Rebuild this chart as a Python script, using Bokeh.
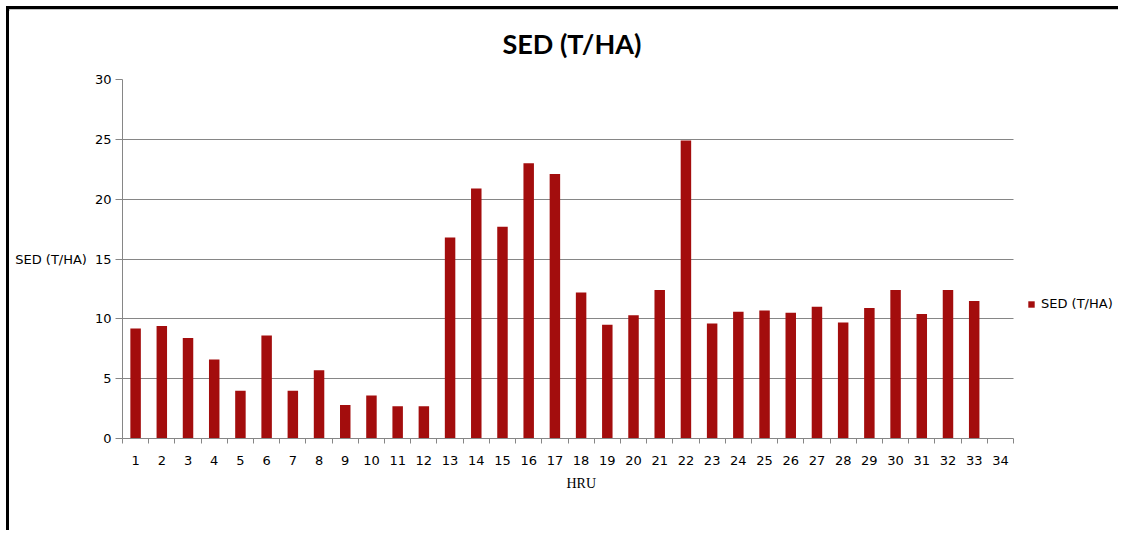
from bokeh.plotting import figure
from bokeh.models import FixedTicker, Legend, LegendItem, ColumnDataSource, Range1d, Title
from bokeh.embed import file_html
from bokeh.resources import INLINE

# ---- data ----
hru = list(range(1, 35))
sed = [9.2, 9.4, 8.4, 6.6, 4.0, 8.6, 4.0, 5.7, 2.8, 3.6, 2.7, 2.7,
       16.8, 20.9, 17.7, 23.0, 22.1, 12.2, 9.5, 10.3, 12.4, 24.9,
       9.6, 10.6, 10.7, 10.5, 11.0, 9.7, 10.9, 12.4, 10.4, 12.4, 11.5]
y_ticks = [0, 5, 10, 15, 20, 25, 30]
series_name = "SED (T/HA)"
x_title = "HRU"
y_title = "SED (T/HA)"
chart_title = "SED (T/HA)"

BAR = "#A30D0D"
GRID = "#868686"
FONT = "DejaVu Sans"

# layout (pixels)
W, H = 1112, 524
LEFT, TOP, BOTTOM = 113, 68, 95
AXIS_PX = 891                      # length of the category axis
x0, x1 = hru[0] - 0.5, hru[-1] + 0.5
px_per = AXIS_PX / (x1 - x0)
x_end = x0 + (W - LEFT) / px_per   # frame extends to the right edge (legend lives there)

src = ColumnDataSource(dict(x=hru[:len(sed)], top=sed))

p = figure(width=W, height=H, output_backend="svg", toolbar_location=None,
           x_range=Range1d(x0, x_end),
           y_range=Range1d(y_ticks[0], y_ticks[-1]),
           min_border_left=LEFT, min_border_right=0,
           min_border_top=TOP, min_border_bottom=BOTTOM)
p.outline_line_color = None
p.background_fill_color = "white"
p.border_fill_color = "white"

r = p.vbar(x="x", top="top", bottom=0, width=0.4, source=src,
           fill_color=BAR, line_color=None)

# title
p.title.text = chart_title
p.title.align = "left"
p.title.offset = 380
p.title.vertical_align = "top"
p.title.text_font = "Lato"
p.title.text_font_size = "27px"
p.title.text_font_style = "bold"
p.title.text_color = "black"
p.title.standoff = 35

# x axis: labels at centres, tick marks between categories
xa = p.xaxis[0]
xa.bounds = (x0, x1)
xa.ticker = FixedTicker(ticks=hru, minor_ticks=[h - 0.5 for h in hru] + [hru[-1] + 0.5])
xa.major_tick_out = 0
xa.major_tick_in = 0
xa.minor_tick_out = 5
xa.minor_tick_in = 0
xa.minor_tick_line_color = GRID
xa.axis_line_color = GRID
xa.major_label_text_font = FONT
xa.major_label_text_font_size = "13px"
xa.major_label_text_color = "black"
xa.major_label_standoff = 12

# x axis title, centred where the reference has it
p.add_layout(Title(text=x_title, align="left", offset=444, standoff=13,
                   text_font="Liberation Serif", text_font_size="14px",
                   text_font_style="normal", text_color="black"), "below")

ya = p.yaxis[0]
ya.ticker = FixedTicker(ticks=y_ticks, minor_ticks=[])
ya.major_tick_out = 7
ya.major_tick_in = 0
ya.major_tick_line_color = GRID
ya.axis_line_color = GRID
ya.major_label_text_font = FONT
ya.major_label_text_font_size = "13px"
ya.major_label_text_color = "black"
ya.major_label_standoff = 4
ya.axis_label = y_title
ya.axis_label_orientation = "horizontal"
ya.axis_label_text_font = FONT
ya.axis_label_text_font_size = "13px"
ya.axis_label_text_font_style = "normal"
ya.axis_label_text_color = "black"
ya.axis_label_standoff = 5

p.xgrid.visible = False
p.ygrid.ticker = FixedTicker(ticks=y_ticks)
p.ygrid.cross_bounds = (x0, x1)
p.ygrid.grid_line_color = GRID
p.ygrid.grid_line_width = 1

legend = Legend(items=[LegendItem(label=series_name, renderers=[r])],
                location=(AXIS_PX + 14, 127), padding=0, margin=0, spacing=0,
                glyph_width=8, glyph_height=8, label_height=13,
                label_standoff=6, border_line_color=None,
                background_fill_alpha=0,
                label_text_font=FONT, label_text_font_size="13px",
                label_text_color="black")
p.add_layout(legend, "center")

p.styles = {"margin-left": "6px", "margin-top": "6px",
            "border-left": "3px solid black", "border-top": "3px solid black",
            "box-shadow": "inset 0 2px 0 #b0b0b0"}

open("out.html", "w").write(file_html(p, INLINE))
